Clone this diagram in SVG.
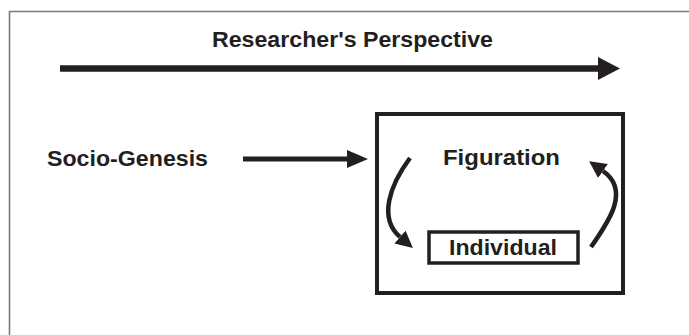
<svg xmlns="http://www.w3.org/2000/svg" width="689" height="335" viewBox="0 0 689 335">
  <style>
    .lbl { font-family: "Liberation Sans", Arial, sans-serif; font-weight: bold; font-size: 22px; fill: #231f20; }
    .box { fill: none; stroke: #231f20; }
    .conn { fill: none; stroke: #231f20; stroke-linecap: butt; }
  </style>
  <defs>
    <!-- arrowheads start at the end of their line (refX 0) -->
    <marker id="headBig" markerUnits="userSpaceOnUse" markerWidth="24" markerHeight="24" refX="0" refY="11.5" orient="auto">
      <path d="M0,0 L22,11.5 L0,23 z" fill="#231f20"/>
    </marker>
    <marker id="headMid" markerUnits="userSpaceOnUse" markerWidth="22" markerHeight="20" refX="0" refY="9" orient="auto">
      <path d="M0,0 L21,9 L0,18 z" fill="#231f20"/>
    </marker>
    <marker id="headCurve" markerUnits="userSpaceOnUse" markerWidth="20" markerHeight="20" refX="0" refY="8.5" orient="auto">
      <path d="M0,0 L17,8.5 L0,17 z" fill="#231f20"/>
    </marker>
  </defs>

  <!-- page frame -->
  <path d="M9.5,335 L9.5,11.5 L689,11.5" fill="none" stroke="#7a7a7a" stroke-width="1.6"/>

  <g id="title">
    <text class="lbl" x="212" y="47" textLength="281" lengthAdjust="spacingAndGlyphs">Researcher's Perspective</text>
  </g>

  <g id="socio-genesis">
    <text class="lbl" x="47" y="166" textLength="161" lengthAdjust="spacingAndGlyphs">Socio-Genesis</text>
  </g>

  <g id="figuration-box">
    <rect class="box" x="377" y="114" width="246" height="179" stroke-width="4"/>
    <text class="lbl" x="443" y="165" textLength="117" lengthAdjust="spacingAndGlyphs">Figuration</text>
  </g>

  <g id="individual">
    <rect class="box" x="429" y="232" width="149" height="31" stroke-width="3.5"/>
    <text class="lbl" x="449" y="255" textLength="108" lengthAdjust="spacingAndGlyphs">Individual</text>
  </g>

  <g id="connectors">
    <line class="conn" x1="60" y1="68.5" x2="598" y2="68.5" stroke-width="6.5" marker-end="url(#headBig)"/>
    <line class="conn" x1="243" y1="159" x2="347" y2="159" stroke-width="5" marker-end="url(#headMid)"/>
    <path class="conn" d="M410,158 C390,185 378,218 400,237" stroke-width="4.5" marker-end="url(#headCurve)"/>
    <path class="conn" d="M591,247 C610,220 630,190 603,171" stroke-width="4.5" marker-end="url(#headCurve)"/>
  </g>
</svg>
